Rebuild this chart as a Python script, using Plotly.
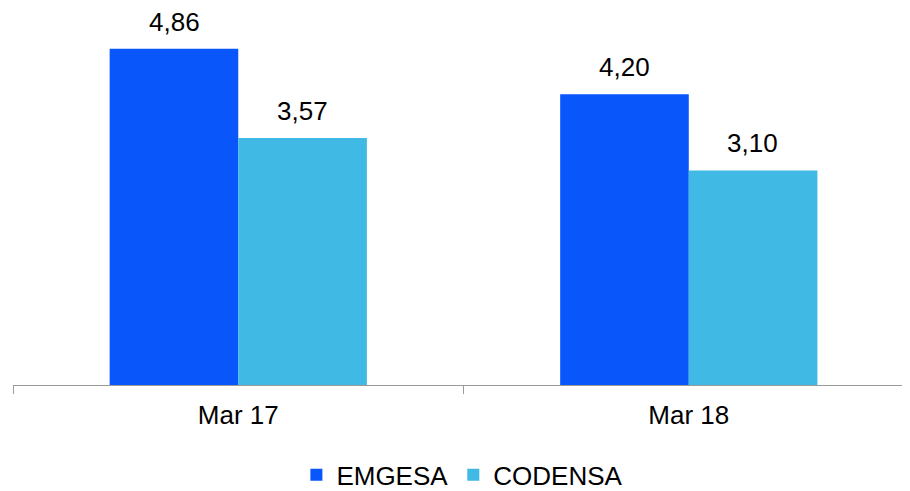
import plotly.graph_objects as go

categories = ["Mar 17", "Mar 18"]
emgesa = [4.86, 4.20]
codensa = [3.57, 3.10]
series_names = ["EMGESA", "CODENSA"]
colors = ["#0957FB", "#41B9E5"]

FONT = "Arial, Liberation Sans, sans-serif"

fig = go.Figure()
for name, vals, col in zip(series_names, [emgesa, codensa], colors):
    fig.add_trace(go.Bar(name=name, x=categories, y=vals, marker_color=col,
                         marker_line_width=0))

# value labels above bars
bar_px = 64
for vals, shift in [(emgesa, -bar_px), (codensa, bar_px)]:
    for c, v in zip(categories, vals):
        fig.add_annotation(x=c, y=v, xref="x", yref="y", text=f"{v:.2f}".replace(".", ","),
                           showarrow=False, xshift=shift, yanchor="bottom", yshift=10,
                           font=dict(family=FONT, size=26, color="#000"))

fig.update_layout(
    width=902, height=483,
    margin=dict(l=5, r=0, t=0, b=106, autoexpand=False),
    paper_bgcolor="white", plot_bgcolor="white",
    barmode="group", bargap=0.429, bargroupgap=0,
    font=dict(family=FONT, size=26, color="#000"),
    showlegend=True,
    legend=dict(orientation="h", x=0.501, xanchor="center", yref="paper",
                y=-0.238, yanchor="middle", font=dict(family=FONT, size=26, color="#000"),
                itemwidth=30, tracegroupgap=0, borderwidth=0),
    xaxis=dict(type="category", range=[-0.5, 1.491], showline=True, linecolor="#9a9a9a",
               linewidth=1, ticks="outside", tickson="boundaries", ticklen=8,
               tickcolor="#9a9a9a", showgrid=False, zeroline=False, ticklabelstandoff=7,
               tickfont=dict(family=FONT, size=26, color="#000")),
    yaxis=dict(range=[0, 5.448], visible=False, showgrid=False),
)

fig.write_html("out.html")
